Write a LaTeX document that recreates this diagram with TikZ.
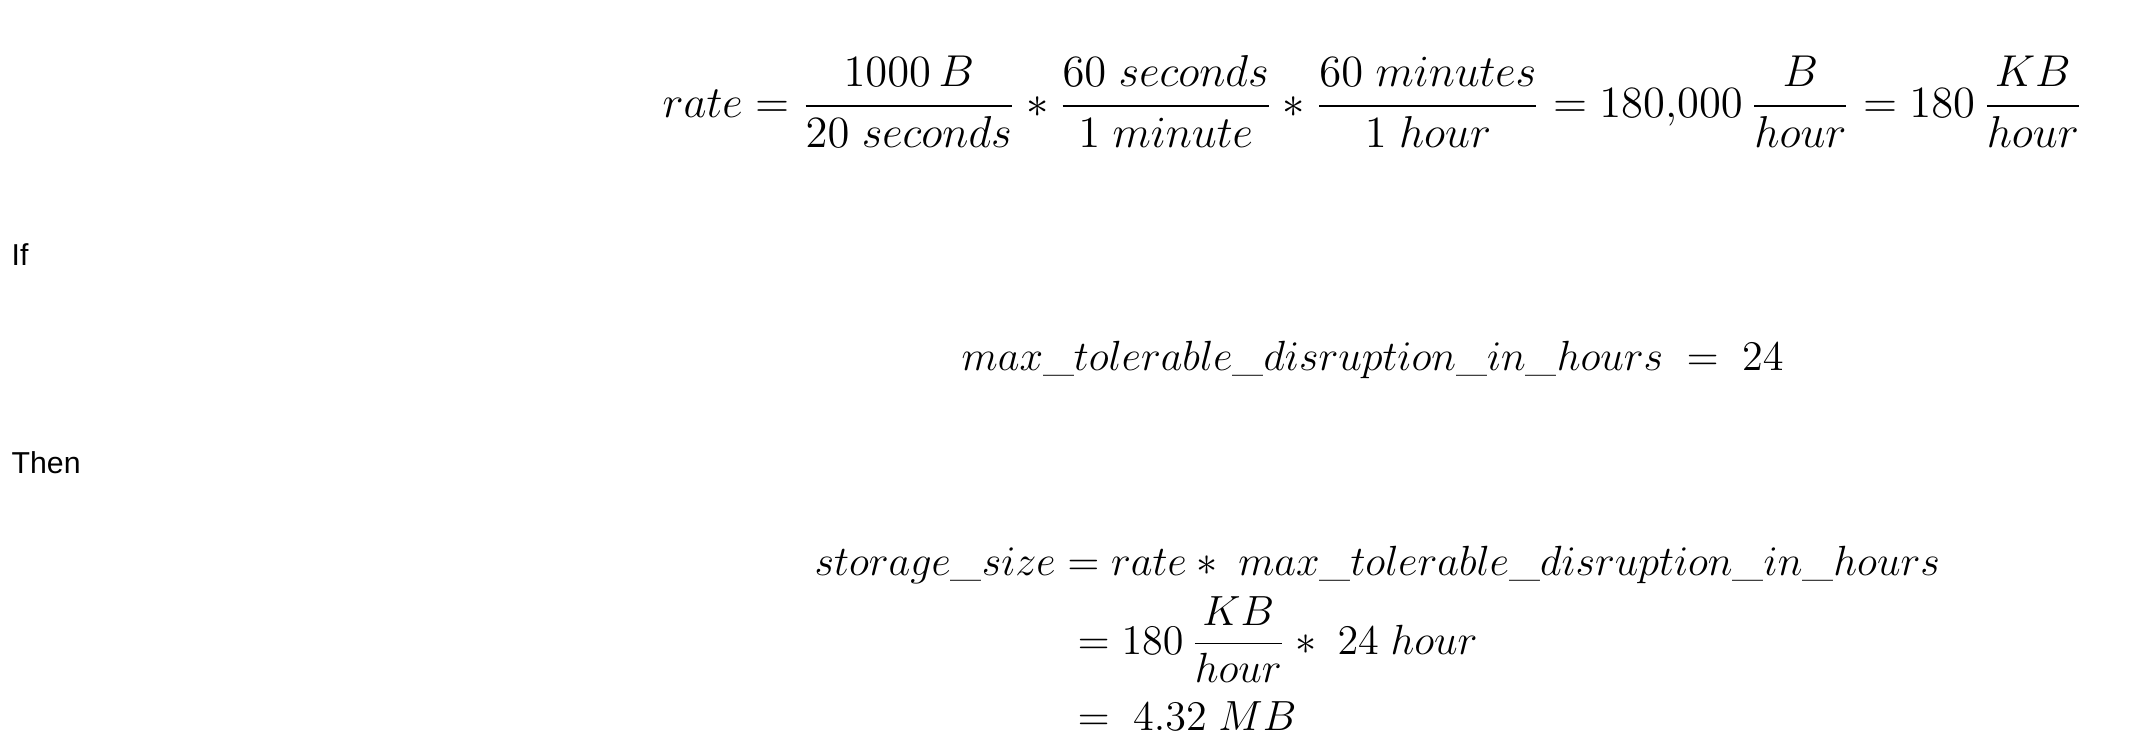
\RequirePackage{fix-cm}
\documentclass[tikz,border=0pt]{standalone}
\usepackage{amsmath,amssymb}
\usepackage{fontspec}
\newfontfamily\labelfont{Liberation Sans}
\usepackage{tikz}

\begin{document}
\begin{tikzpicture}[x=0.01cm,y=-0.01cm,
		eqn/.style={anchor=base west,inner sep=0pt,font=\fontsize{12}{15}\selectfont},
		word/.style={anchor=base west,inner sep=0pt,font=\labelfont\fontsize{8.6}{10}\selectfont}]
				\useasboundingbox (0,0) rectangle (2144,748);

				% rate of incoming data
				\node [eqn,font=\fontsize{12.7}{16}\selectfont] (rate) at (662,117) {$\displaystyle rate = \frac{1000\,B}{20\;seconds} \ast \frac{60\;seconds}{1\;minute} \ast \frac{60\;minutes}{1\;hour} = 180{,}000\,\frac{B}{hour} = 180\,\frac{KB}{hour}$};

				\node [word] (if) at (11,265) {If};
				\node [eqn] (mtd) at (961,370) {$max\_tolerable\_disruption\_in\_hours \;=\; 24$};

				\node [word] (then) at (11,473) {Then};
				\node [eqn] (size) at (814,575) {$storage\_size = rate \ast\; max\_tolerable\_disruption\_in\_hours$};
				\node [eqn] (step1) at (1077,654) {$\displaystyle = 180\,\frac{KB}{hour} \ast\; 24\;hour$};
				\node [eqn] (step2) at (1077,730) {$= \;4.32\;MB$};
		\end{tikzpicture}
\end{document}
